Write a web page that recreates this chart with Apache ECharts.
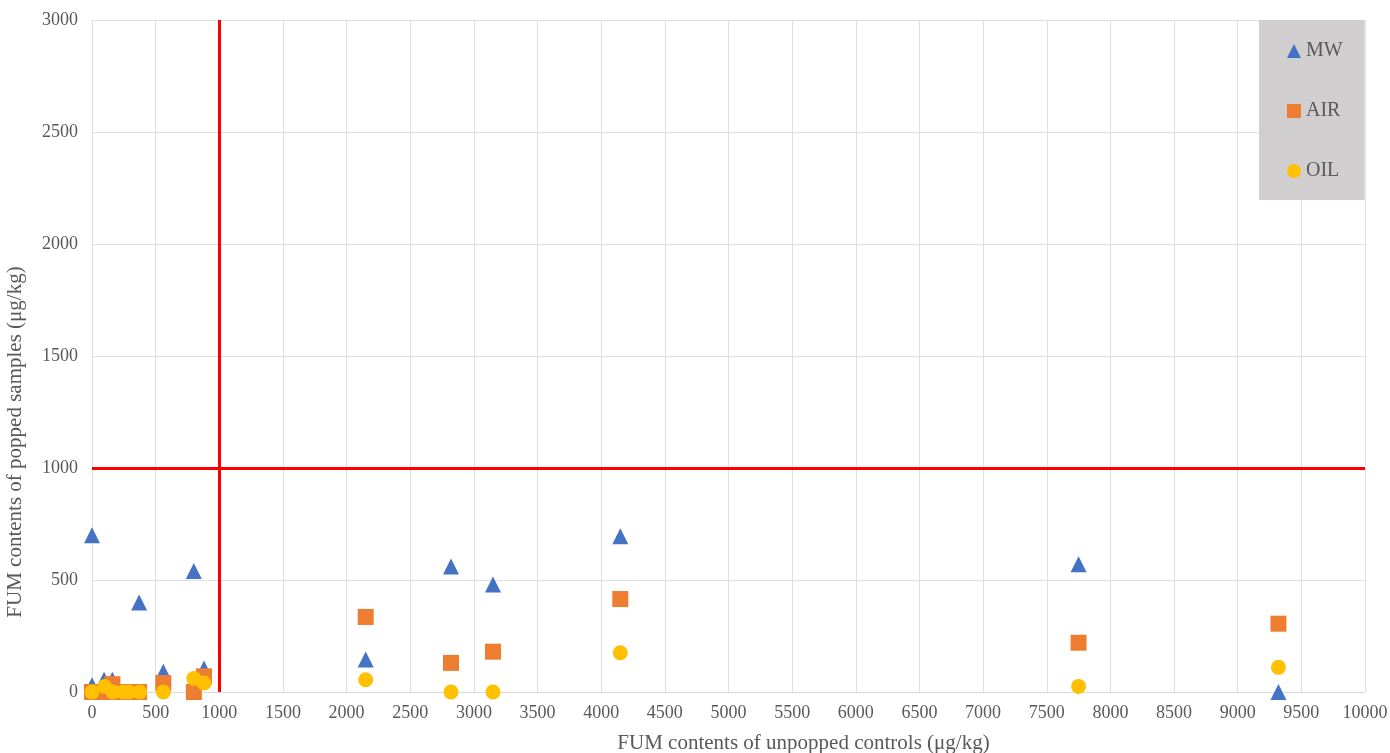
<!DOCTYPE html>
<html><head><meta charset="utf-8">
<script src="https://cdn.jsdelivr.net/npm/echarts@6/dist/echarts.min.js"></script>
<style>html,body{margin:0;padding:0;background:#fff}#c{width:1390px;height:753px}</style>
</head><body><div id="c"></div>
<script>
const mwData = [[0,700],[0,30],[95,55],[160,55],[370,400],[560,90],[800,540],[880,105],[2150,145],[2820,560],[3150,480],[4150,695],[7750,570],[9320,0]];
const airData = [[0,0],[50,0],[100,0],[160,35],[200,0],[250,0],[300,0],[370,0],[560,40],[800,0],[880,70],[2150,335],[2820,130],[3150,180],[4150,415],[7750,220],[9320,305]];
const oilData = [[0,0],[100,25],[165,0],[245,0],[290,0],[375,0],[560,0],[800,60],[880,40],[2150,55],[2820,0],[3150,0],[4150,175],[7750,25],[9320,110]];
const seriesNames = ['MW','AIR','OIL'];
const xName = 'FUM contents of unpopped controls (μg/kg)';
const yName = 'FUM contents of popped samples (μg/kg)';
const limitValue = 1000;

const font = '"Liberation Serif", "Times New Roman", serif';
const chart = echarts.init(document.getElementById('c'));
chart.setOption({
  animation:false,
  textStyle:{fontFamily:font},
  grid:{left:92,right:25,top:20,bottom:61,outerBoundsMode:'none',containLabel:false},
  xAxis:{type:'value',min:0,max:10000,interval:500,
    name:xName,nameLocation:'middle',nameGap:41,
    nameTextStyle:{fontFamily:font,fontSize:21,color:'#595959',padding:[0,0,0,150]},
    axisLine:{show:true,lineStyle:{color:'#d9d9d9'}},axisTick:{show:false},
    axisLabel:{fontFamily:font,fontSize:18,color:'#595959',margin:12,formatter:v=>String(v)},
    splitLine:{show:true,lineStyle:{color:'#e0e0e0'}}},
  yAxis:{type:'value',min:0,max:3000,interval:500,
    name:yName,nameLocation:'middle',nameGap:66,
    nameTextStyle:{fontFamily:font,fontSize:21,color:'#595959',padding:[0,172,0,0]},
    axisLine:{show:false},axisTick:{show:false},
    axisLabel:{fontFamily:font,fontSize:18,color:'#595959',margin:14,formatter:v=>String(v)},
    splitLine:{show:true,lineStyle:{color:'#e0e0e0'}}},
  legend:{orient:'vertical',left:1259,top:20,
    data:seriesNames,
    backgroundColor:'#d0cece',padding:[21,22,19,28],itemGap:40,
    itemWidth:14,itemHeight:14,
    textStyle:{fontFamily:font,fontSize:20,color:'#595959'}},
  series:[
    {name:'MW',type:'scatter',symbol:'triangle',symbolSize:16,data:mwData,itemStyle:{color:'#4472C4',opacity:1},
      markLine:{silent:true,symbol:'none',label:{show:false},lineStyle:{color:'#ff0000',width:3,type:'solid',opacity:1},
        data:[{xAxis:limitValue},{yAxis:limitValue}]}},
    {name:'AIR',type:'scatter',symbol:'rect',symbolSize:16,data:airData,itemStyle:{color:'#ED7D31',opacity:1}},
    {name:'OIL',type:'scatter',symbol:'circle',symbolSize:15,data:oilData,itemStyle:{color:'#FFC000',opacity:1}}
  ]
});
</script></body></html>
